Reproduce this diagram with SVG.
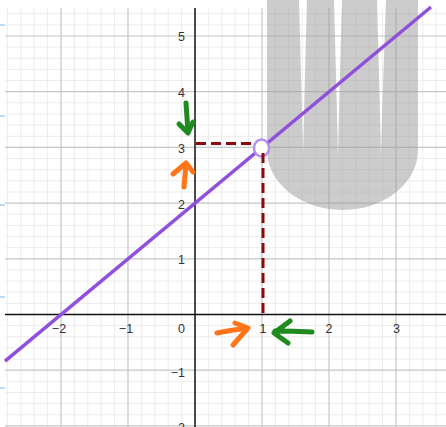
<svg xmlns="http://www.w3.org/2000/svg" width="446" height="427" viewBox="0 0 446 427">
<style>
.minor{stroke:#ececec;stroke-width:1;fill:none}
.major{stroke:#c6c6c6;stroke-width:1.2;fill:none}
.axis{stroke:#111;stroke-width:1.5;fill:none}
.tick{stroke:#a8d0f0;stroke-width:1.5}
.lbl{font-family:"Liberation Sans",Arial,sans-serif;font-size:12.5px;fill:#333}
.ylbl{text-anchor:end}
.xlbl{text-anchor:middle}
.dash{stroke:#8b0a0a;stroke-width:3;stroke-dasharray:10 5;fill:none}
.arr{fill:none;stroke-width:5;stroke-linecap:round;stroke-linejoin:round}
.green{stroke:#1f8a1f}
.orange{stroke:#ff7518}
</style>
<rect width="446" height="427" fill="#fff"/>
<g id="grid">
<path class="minor" d="M7.4,8V427M20.8,8V427M34.2,8V427M47.6,8V427M74.4,8V427M87.8,8V427M101.2,8V427M114.6,8V427M141.4,8V427M154.8,8V427M168.2,8V427M181.6,8V427M208.4,8V427M221.8,8V427M235.2,8V427M248.6,8V427M275.4,8V427M288.8,8V427M302.2,8V427M315.6,8V427M342.4,8V427M355.8,8V427M369.2,8V427M382.6,8V427M409.4,8V427M422.8,8V427M436.2,8V427"/>
<path class="minor" d="M5,414.8H446M5,403.6H446M5,392.5H446M5,381.3H446M5,359.1H446M5,347.9H446M5,336.8H446M5,325.6H446M5,303.4H446M5,292.2H446M5,281.1H446M5,269.9H446M5,247.7H446M5,236.5H446M5,225.4H446M5,214.2H446M5,192H446M5,180.8H446M5,169.7H446M5,158.5H446M5,136.3H446M5,125.1H446M5,114H446M5,102.8H446M5,80.6H446M5,69.4H446M5,58.3H446M5,47.1H446M5,24.9H446M5,13.7H446"/>
<path class="major" d="M61,8V427M128,8V427M262,8V427M329,8V427M396,8V427M5,425.9H446M5,370.2H446M5,258.8H446M5,203.1H446M5,147.4H446M5,91.7H446M5,36H446"/>
<path class="axis" d="M195,8V427M5,314.5H446"/>
<path class="tick" d="M0,25H5M0,116H5M0,205H5M0,297H5M0,388H5"/>
</g>
<g id="region">
<path fill="#999" fill-opacity="0.5" fill-rule="evenodd" d="M267,0V150A75.5,60 0 0 0 418,150V0Z M299,0L307,0Q304,110 303,157Q302,110 299,0Z M334,0L342,0Q339,110 338,157Q337,110 334,0Z M377,0L386,0Q382,110 381,157Q380,110 377,0Z"/>
</g>
<g id="labels">
<text class="lbl ylbl" x="185" y="41">5</text>
<text class="lbl ylbl" x="185" y="96.5">4</text>
<text class="lbl ylbl" x="185" y="152.5">3</text>
<text class="lbl ylbl" x="185" y="208.5">2</text>
<text class="lbl ylbl" x="185" y="264">1</text>
<text class="lbl ylbl" x="185" y="333">0</text>
<text class="lbl ylbl" x="185" y="376.5">−1</text>
<text class="lbl ylbl" x="185" y="432">−2</text>
<text class="lbl xlbl" x="59" y="333">−2</text>
<text class="lbl xlbl" x="126" y="333">−1</text>
<text class="lbl xlbl" x="263" y="333">1</text>
<text class="lbl xlbl" x="329" y="333">2</text>
<text class="lbl xlbl" x="396.5" y="333">3</text>
</g>
<g id="line">
<path d="M5,361.1L431,7" stroke="#9150dc" stroke-width="3.5" fill="none"/>
</g>
<g id="point">
<ellipse cx="261.5" cy="148" rx="7.5" ry="8.5" fill="#fff" stroke="#b58ef2" stroke-width="2.5"/>
</g>
<g id="connectors">
<path class="dash" d="M196,143.5H256"/>
<path class="dash" d="M263,153V315"/>
</g>
<g id="arrows">
<path class="arr green" d="M186,103Q187,118 188,132M179,124L188,133L193,122"/>
<path class="arr orange" d="M184,187Q185,175 186,164M173,174L186,163L193,172"/>
<path class="arr orange" d="M217,333Q232,330 248,328M235,323L248,328L233,345"/>
<path class="arr green" d="M312,332Q294,331 275,331M290,321L274,333L288,343"/>
</g>
</svg>
